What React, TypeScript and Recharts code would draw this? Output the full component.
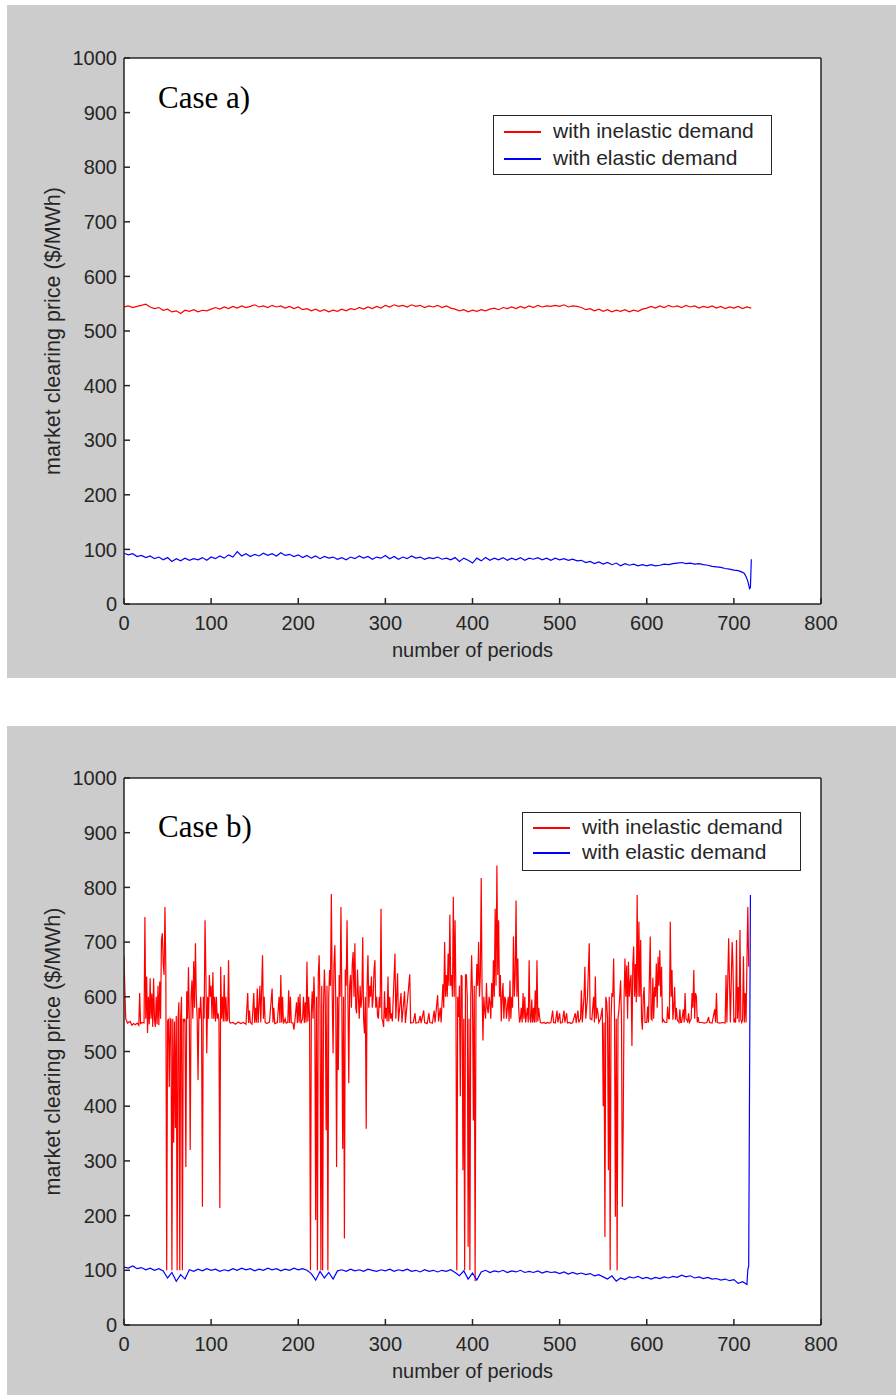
import React from 'react';
import { CartesianGrid, Legend, Line, LineChart, XAxis, YAxis } from 'recharts';

// sample periods shared by the regularly sampled series (every 5th period)
const periods = [
  0, 5, 10, 15, 20, 25, 30, 35, 40, 45,
  50, 55, 60, 65, 70, 75, 80, 85, 90, 95,
  100, 105, 110, 115, 120, 125, 130, 135, 140, 145,
  150, 155, 160, 165, 170, 175, 180, 185, 190, 195,
  200, 205, 210, 215, 220, 225, 230, 235, 240, 245,
  250, 255, 260, 265, 270, 275, 280, 285, 290, 295,
  300, 305, 310, 315, 320, 325, 330, 335, 340, 345,
  350, 355, 360, 365, 370, 375, 380, 385, 390, 395,
  400, 405, 410, 415, 420, 425, 430, 435, 440, 445,
  450, 455, 460, 465, 470, 475, 480, 485, 490, 495,
  500, 505, 510, 515, 520, 525, 530, 535, 540, 545,
  550, 555, 560, 565, 570, 575, 580, 585, 590, 595,
  600, 605, 610, 615, 620, 625, 630, 635, 640, 645,
  650, 655, 660, 665, 670, 675, 680, 685, 690, 695,
  700, 705, 710,
];

// Case a) inelastic demand, $/MWh
const redAPeriods = [...periods, 715, 720];
const redAPrice = [
  544, 546, 543, 545, 547, 549, 544, 541, 543, 538,
  540, 535, 537, 532, 538, 536, 539, 535, 538, 537,
  540, 543, 540, 544, 541, 545, 542, 546, 543, 545,
  548, 544, 546, 543, 547, 544, 546, 542, 545, 541,
  544, 539, 541, 537, 540, 536, 539, 535, 538, 536,
  540, 537, 541, 539, 543, 540, 544, 541, 545, 542,
  547, 544, 548, 545, 547, 544, 548, 545, 547, 543,
  546, 544, 547, 543, 546, 542, 540, 537, 539, 535,
  538, 536, 539, 537, 540, 542, 539, 543, 541, 544,
  541, 545, 542, 546, 543, 547, 544, 546, 545, 547,
  545, 548, 544, 546, 545, 543, 539, 541, 537, 540,
  536, 539, 535, 538, 536, 539, 535, 538, 536, 540,
  542, 545, 542, 546, 543, 547, 544, 546, 543, 547,
  544, 546, 542, 545, 543, 546, 542, 545, 541, 544,
  542, 545, 541, 544, 542,
];

// Case a) elastic demand
const blueAPeriods = [...periods, 712, 714, 716, 718, 719, 720];
const blueAPrice = [
  93, 90, 92, 87, 89, 85, 88, 83, 86, 81,
  85, 78, 83, 79, 84, 80, 83, 81, 85, 80,
  86, 83, 88, 84, 90, 86, 96, 88, 92, 87,
  91, 88, 93, 89, 92, 88, 94, 89, 91, 87,
  90, 85, 89, 84, 88, 83, 87, 84, 86, 82,
  85, 81, 86, 83, 88, 84, 87, 82, 86, 84,
  89, 83, 87, 82, 86, 83, 88, 84, 86, 82,
  85, 83, 86, 82, 84, 81, 85, 78, 84, 80,
  75, 84, 79, 85, 80, 84, 81, 85, 80, 84,
  81, 85, 80, 84, 82, 85, 81, 84, 80, 84,
  81, 83, 80, 82, 79, 80, 76, 78, 74, 77,
  73, 76, 72, 75, 70, 74, 71, 73, 70, 72,
  70, 72, 70, 71, 73, 72, 74, 75, 76, 74,
  75, 73, 74, 72, 71, 69, 68, 67, 65, 64,
  62, 61, 58,
  56, 50, 42, 28, 30, 82,
];

// Case b) inelastic demand: [period, price], spikes are single periods
const redBPoints: [number, number][] = [
  [0, 675], [1, 612], [2, 560], [4, 552], [7, 555], [9, 548], [11, 551], [13, 549], [15, 552], [17, 548],
  [18, 607], [19, 551], [21, 553], [23, 552], [24, 746], [25, 560], [26, 637], [27, 534], [28, 600], [29, 550],
  [30, 634], [31, 560], [32, 606], [33, 545], [34, 634], [35, 558], [36, 545], [37, 600], [38, 550], [39, 620],
  [40, 548], [41, 628], [42, 560], [43, 704], [44, 716], [45, 661], [46, 640], [47, 764], [48, 655], [49, 100],
  [50, 555], [51, 560], [52, 435], [53, 560], [54, 558], [55, 100], [56, 560], [57, 333], [58, 555], [59, 360],
  [60, 565], [61, 100], [62, 558], [63, 590], [64, 100], [65, 560], [66, 600], [67, 100], [68, 560], [69, 556],
  [70, 560], [71, 289], [72, 610], [73, 560], [74, 654], [75, 550], [76, 320], [77, 600], [78, 630], [79, 560],
  [80, 665], [81, 580], [82, 698], [83, 600], [84, 560], [85, 448], [86, 580], [87, 560], [88, 600], [89, 560],
  [90, 216], [91, 600], [92, 560], [93, 740], [94, 640], [95, 497], [96, 600], [97, 560], [98, 640], [99, 600],
  [100, 620], [101, 560], [102, 645], [103, 560], [104, 600], [105, 555], [106, 600], [107, 560], [108, 570], [109, 555],
  [110, 214], [111, 655], [112, 560], [113, 600], [114, 555], [115, 640], [116, 555], [117, 600], [118, 555], [119, 560],
  [120, 667], [121, 555], [122, 552], [125, 553], [128, 550], [131, 554], [134, 551], [137, 553], [140, 550], [142, 607],
  [143, 552], [144, 575], [145, 553], [147, 550], [149, 607], [150, 552], [151, 580], [152, 553], [153, 615], [154, 552],
  [156, 620], [157, 553], [158, 615], [159, 676], [160, 560], [161, 600], [162, 553], [164, 551], [167, 554], [170, 615],
  [171, 553], [172, 580], [173, 551], [176, 553], [178, 600], [179, 552], [180, 640], [181, 553], [182, 600], [183, 551],
  [185, 560], [186, 552], [188, 553], [189, 612], [190, 552], [191, 600], [192, 553], [194, 552], [195, 540], [196, 553],
  [198, 590], [199, 552], [200, 600], [201, 553], [202, 605], [203, 551], [205, 560], [206, 600], [207, 552], [208, 590],
  [209, 553], [210, 664], [211, 555], [212, 600], [213, 560], [214, 100], [215, 570], [216, 610], [217, 560], [218, 637],
  [219, 580], [220, 192], [221, 600], [222, 100], [223, 640], [224, 676], [225, 580], [226, 100], [227, 620], [228, 100],
  [229, 580], [230, 650], [231, 600], [232, 356], [233, 620], [234, 100], [235, 600], [236, 649], [237, 620], [238, 788],
  [239, 600], [240, 497], [241, 660], [242, 694], [243, 600], [244, 289], [245, 600], [246, 466], [247, 640], [248, 600],
  [249, 764], [250, 600], [251, 322], [252, 600], [253, 158], [254, 650], [255, 620], [256, 740], [257, 600], [258, 442],
  [259, 620], [260, 640], [261, 580], [262, 660], [263, 682], [264, 600], [265, 698], [266, 580], [267, 570], [268, 650],
  [269, 600], [270, 560], [271, 620], [272, 580], [273, 600], [274, 709], [275, 560], [276, 533], [277, 600], [278, 359],
  [279, 620], [280, 676], [281, 580], [282, 620], [283, 600], [284, 637], [285, 580], [286, 600], [287, 650], [288, 667],
  [289, 580], [290, 600], [291, 565], [292, 560], [293, 600], [294, 580], [295, 761], [296, 560], [297, 555], [298, 545],
  [299, 610], [300, 560], [301, 580], [302, 555], [303, 637], [304, 555], [305, 600], [306, 560], [307, 570], [308, 555],
  [311, 679], [312, 560], [314, 643], [315, 555], [318, 607], [319, 553], [322, 610], [323, 552], [328, 641], [329, 552],
  [332, 553], [334, 570], [335, 552], [338, 553], [340, 565], [341, 552], [344, 575], [345, 553], [348, 551], [350, 570],
  [351, 553], [354, 552], [356, 575], [357, 553], [360, 603], [361, 555], [363, 580], [364, 553], [366, 623], [367, 580],
  [368, 700], [369, 600], [370, 640], [371, 600], [372, 679], [373, 620], [374, 750], [375, 620], [376, 640], [377, 600],
  [378, 783], [379, 600], [380, 740], [381, 600], [382, 100], [383, 600], [384, 563], [385, 620], [386, 418], [387, 640],
  [388, 637], [389, 283], [390, 560], [391, 100], [392, 640], [393, 640], [394, 600], [395, 143], [396, 560], [397, 100],
  [398, 600], [399, 676], [400, 600], [401, 374], [402, 620], [403, 80], [404, 600], [405, 660], [406, 620], [407, 700],
  [408, 600], [409, 640], [410, 817], [411, 610], [412, 520], [413, 600], [414, 575], [415, 560], [416, 625], [417, 580],
  [418, 570], [419, 600], [420, 590], [421, 560], [422, 625], [423, 580], [424, 667], [425, 600], [426, 761], [427, 620],
  [428, 840], [429, 640], [430, 740], [431, 600], [432, 640], [433, 555], [434, 600], [435, 625], [436, 560], [437, 600],
  [438, 595], [439, 560], [440, 580], [441, 600], [442, 555], [443, 630], [444, 560], [445, 600], [446, 580], [447, 710],
  [448, 600], [449, 640], [450, 776], [451, 600], [452, 670], [453, 580], [454, 553], [455, 560], [456, 580], [457, 553],
  [458, 607], [459, 560], [460, 600], [461, 553], [463, 580], [464, 553], [465, 667], [466, 560], [467, 553], [468, 595],
  [469, 553], [470, 580], [471, 553], [472, 612], [473, 553], [474, 667], [475, 555], [476, 580], [477, 563], [478, 553],
  [480, 552], [482, 553], [484, 551], [486, 553], [488, 552], [490, 553], [492, 575], [493, 553], [495, 552], [497, 575],
  [498, 553], [500, 570], [501, 552], [503, 553], [505, 575], [506, 553], [508, 570], [509, 552], [511, 553], [513, 551],
  [515, 553], [518, 570], [519, 552], [521, 575], [522, 553], [524, 560], [525, 612], [526, 553], [528, 600], [529, 655],
  [530, 560], [532, 600], [534, 698], [535, 560], [537, 558], [538, 580], [539, 600], [540, 553], [541, 637], [542, 560],
  [543, 580], [544, 570], [545, 553], [547, 560], [549, 580], [550, 400], [551, 553], [552, 161], [553, 600], [554, 590],
  [555, 560], [556, 283], [557, 600], [558, 100], [559, 560], [560, 607], [561, 600], [562, 670], [563, 560], [564, 198],
  [565, 560], [566, 100], [567, 560], [568, 575], [569, 600], [570, 630], [571, 560], [572, 216], [573, 370], [574, 600],
  [575, 670], [576, 600], [577, 657], [578, 560], [579, 664], [580, 600], [581, 627], [582, 640], [583, 510], [584, 660],
  [585, 692], [586, 600], [587, 660], [588, 590], [589, 786], [590, 600], [591, 737], [592, 600], [593, 704], [594, 560],
  [595, 540], [596, 600], [597, 618], [598, 553], [600, 553], [601, 582], [602, 553], [604, 710], [605, 560], [606, 558],
  [607, 635], [608, 560], [609, 618], [610, 600], [611, 661], [612, 580], [613, 673], [614, 620], [615, 685], [616, 600],
  [617, 655], [618, 553], [619, 558], [621, 553], [623, 553], [624, 582], [625, 560], [626, 560], [627, 737], [628, 600],
  [629, 649], [630, 558], [631, 580], [632, 618], [633, 558], [634, 580], [635, 558], [637, 553], [638, 577], [639, 553],
  [640, 553], [642, 577], [643, 553], [644, 607], [645, 560], [646, 558], [647, 553], [648, 570], [649, 553], [651, 560],
  [652, 607], [653, 580], [654, 649], [655, 560], [656, 607], [657, 600], [658, 553], [659, 563], [660, 553], [663, 553],
  [666, 552], [669, 553], [671, 563], [672, 553], [675, 552], [678, 577], [679, 553], [680, 607], [681, 553], [684, 552],
  [687, 553], [690, 552], [691, 640], [692, 553], [694, 707], [695, 625], [696, 553], [698, 700], [699, 655], [700, 553],
  [701, 558], [702, 553], [703, 704], [704, 560], [705, 618], [706, 553], [707, 722], [708, 558], [709, 553], [710, 558],
  [711, 674], [712, 553], [713, 607], [714, 553], [715, 667], [716, 764], [717, 655],
];

// Case b) elastic demand
const blueBPeriods = [...periods, 715, 716, 717, 718, 719];
const blueBPrice = [
  106, 104, 108, 103, 105, 101, 104, 100, 103, 99,
  86, 96, 80, 92, 84, 101, 98, 102, 99, 103,
  100, 102, 98, 101, 99, 103, 100, 104, 101, 103,
  99, 102, 100, 104, 101, 103, 99, 102, 100, 104,
  101, 103, 100, 94, 82, 98, 86, 96, 84, 99,
  101, 98, 102, 99, 101, 98, 102, 100, 98, 101,
  99, 102, 98, 101, 99, 102, 98, 100, 97, 101,
  98, 100, 97, 100, 98, 101, 96, 90, 99, 84,
  95, 82, 97, 100, 96, 99, 97, 100, 96, 99,
  97, 100, 96, 98, 96, 99, 95, 98, 96, 97,
  94, 97, 93, 96, 93, 95, 92, 94, 90, 92,
  88, 84, 90, 80, 86, 83, 88, 86, 89, 85,
  87, 84, 87, 85, 88, 86, 89, 87, 91, 88,
  90, 86, 88, 85, 87, 84, 85, 82, 84, 81,
  83, 76, 79,
  74, 101, 108, 445, 786,
];

const xTicks = [0, 100, 200, 300, 400, 500, 600, 700, 800];
const yTicks = [0, 100, 200, 300, 400, 500, 600, 700, 800, 900, 1000];

const INELASTIC = 'with inelastic demand';
const ELASTIC = 'with elastic demand';
const seriesOrder = [INELASTIC, ELASTIC];

const FONT = '"Liberation Sans", Arial, Helvetica, sans-serif';
const INK = '#262626';
const PANEL_W = 889;
const PLOT_W = 697;

type Point = { period: number; price: number };
type Series = { name: string; color: string; data: Point[] };

const zip = (xs: number[], ys: number[]): Point[] => xs.map((period, i) => ({ period, price: ys[i] }));

type PanelProps = {
  top: number;
  height: number;
  plotTop: number;
  plotHeight: number;
  caseText: string;
  caseTop: number;
  legendTop: number;
  legendLeft: number;
  legendHeight: number;
  rowFirst: number;
  rowGap: number;
  series: Series[];
};

function Panel(p: PanelProps) {
  const plotBottom = p.plotTop + p.plotHeight;
  const yLabelY = p.plotTop + p.plotHeight / 2;

  const renderYLabel = (props: any) => {
    const vb = props && props.viewBox;
    const cx = vb && typeof vb.x === 'number' ? vb.x - 4 : 53;
    const cy = vb && typeof vb.y === 'number' ? vb.y + vb.height / 2 : yLabelY;
    return (
      <text
        x={cx}
        y={cy}
        transform={`rotate(-90 ${cx} ${cy})`}
        textAnchor="middle"
        fill={INK}
        fontSize={21.5}
        fontFamily={FONT}
      >
        market clearing price ($/MWh)
      </text>
    );
  };

  const renderLegend = (props: any) => {
    const payload = [...((props && props.payload) || [])].sort(
      (a: any, b: any) => seriesOrder.indexOf(a.value) - seriesOrder.indexOf(b.value)
    );
    return (
      <div
        style={{
          position: 'relative',
          boxSizing: 'border-box',
          width: 279,
          height: p.legendHeight,
          border: `1.5px solid ${INK}`,
          background: '#fff',
          fontFamily: FONT,
          fontSize: 21,
          color: INK,
        }}
      >
        {payload.map((entry: any, i: number) => (
          <div key={entry.value} style={{ position: 'absolute', left: 0, top: p.rowFirst + i * p.rowGap - 2 }}>
            <div style={{ position: 'absolute', left: 10, top: 0, width: 37, height: 2, background: entry.color }} />
            <div style={{ position: 'absolute', left: 59, top: -12, lineHeight: '24px', whiteSpace: 'nowrap' }}>
              {entry.value}
            </div>
          </div>
        ))}
      </div>
    );
  };

  return (
    <div
      style={{
        position: 'absolute',
        left: 7,
        top: p.top,
        width: PANEL_W,
        height: p.height,
        background: '#cccccc',
        fontFamily: FONT,
      }}
    >
      <LineChart
        width={PANEL_W}
        height={p.height}
        margin={{ top: p.plotTop - 1, right: PANEL_W - 117 - PLOT_W - 1, bottom: p.height - plotBottom - 30, left: 57 }}
      >
        <CartesianGrid fill="#ffffff" horizontal={false} vertical={false} />
        <XAxis
          type="number"
          dataKey="period"
          domain={[0, 800]}
          ticks={xTicks}
          allowDataOverflow
          height={30}
          tickSize={-6}
          tickMargin={18}
          stroke={INK}
          strokeWidth={1.5}
          tick={{ fill: INK, fontSize: 20 }}
          label={{ value: 'number of periods', position: 'bottom', offset: 9, fill: INK, fontSize: 20 }}
        />
        <XAxis
          xAxisId="top"
          orientation="top"
          type="number"
          dataKey="period"
          domain={[0, 800]}
          ticks={xTicks}
          allowDataOverflow
          height={1}
          tickSize={-6}
          tick={false}
          stroke={INK}
          strokeWidth={1.5}
        />
        <YAxis
          type="number"
          domain={[0, 1000]}
          ticks={yTicks}
          allowDataOverflow
          width={60}
          tickSize={-6}
          tickMargin={13}
          stroke={INK}
          strokeWidth={1.5}
          tick={{ fill: INK, fontSize: 20 }}
          label={renderYLabel}
        />
        <YAxis
          yAxisId="right"
          orientation="right"
          type="number"
          domain={[0, 1000]}
          ticks={yTicks}
          allowDataOverflow
          width={1}
          tickSize={-6}
          tick={false}
          stroke={INK}
          strokeWidth={1.5}
        />
        {p.series.map((s) => (
          <Line
            key={s.name}
            data={s.data}
            dataKey="price"
            name={s.name}
            type="linear"
            stroke={s.color}
            strokeWidth={1.2}
            dot={false}
            activeDot={false}
            isAnimationActive={false}
          />
        ))}
        <Legend
          layout="vertical"
          align="center"
          verticalAlign="middle"
          wrapperStyle={{ left: p.legendLeft, top: p.legendTop, width: 279, height: p.legendHeight }}
          content={renderLegend}
        />
      </LineChart>
      <div
        style={{
          position: 'absolute',
          left: 151,
          top: p.caseTop,
          fontFamily: '"Liberation Serif", "Times New Roman", serif',
          fontSize: 31,
          lineHeight: '31px',
          color: '#000',
          whiteSpace: 'nowrap',
        }}
      >
        {p.caseText}
      </div>
    </div>
  );
}

export default function App() {
  const caseA: Series[] = [
    { name: INELASTIC, color: '#ff0000', data: zip(redAPeriods, redAPrice) },
    { name: ELASTIC, color: '#0000ff', data: zip(blueAPeriods, blueAPrice) },
  ];
  const caseB: Series[] = [
    { name: INELASTIC, color: '#ff0000', data: redBPoints.map(([period, price]) => ({ period, price })) },
    { name: ELASTIC, color: '#0000ff', data: zip(blueBPeriods, blueBPrice) },
  ];

  return (
    <div style={{ position: 'absolute', left: 0, top: 0, width: 896, height: 1395, background: '#fff', overflow: 'hidden' }}>
      <Panel
        top={5}
        height={673}
        plotTop={53}
        plotHeight={546}
        caseText="Case a)"
        caseTop={77}
        legendLeft={486}
        legendTop={110}
        legendHeight={60}
        rowFirst={17}
        rowGap={27}
        series={caseA}
      />
      <Panel
        top={726}
        height={669}
        plotTop={52}
        plotHeight={547}
        caseText="Case b)"
        caseTop={85}
        legendLeft={515}
        legendTop={86}
        legendHeight={59}
        rowFirst={16}
        rowGap={25}
        series={caseB}
      />
    </div>
  );
}
